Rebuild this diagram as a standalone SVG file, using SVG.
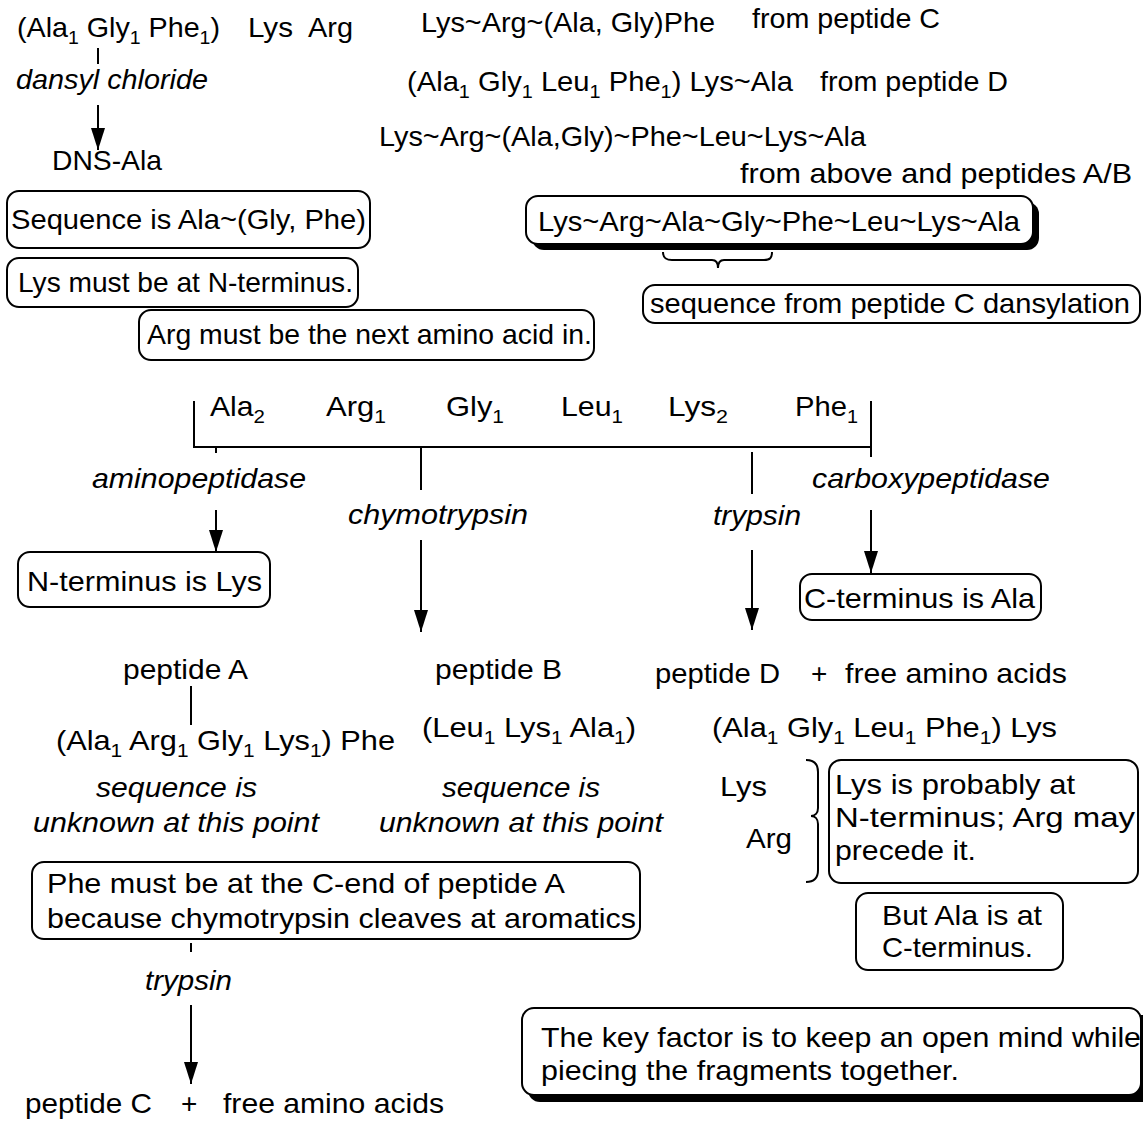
<svg xmlns="http://www.w3.org/2000/svg" width="1143" height="1122" viewBox="0 0 1143 1122">
  <style>
    .t { font-family: "Liberation Sans", Arial, Helvetica, sans-serif; font-size: 28px; fill: #000; }
    .i { font-style: italic; }
    .s { font-size: 19px; }
    .box { fill: #fff; stroke: #000; stroke-width: 2; }
    .shd { fill: #000; }
    .ln { fill: none; stroke: #000; stroke-width: 2; }
  </style>
  <defs>
    <marker id="ah" viewBox="0 0 22 14" refX="22" refY="7" markerWidth="22" markerHeight="14" markerUnits="userSpaceOnUse" orient="auto">
      <path d="M0,0 L22,7 L0,14 Z" fill="#000"/>
    </marker>
  </defs>
  <rect width="1143" height="1122" fill="#fff"/>

  <!-- connectors: plain lines, bracket, braces and arrows -->
  <g id="connectors" class="ln">
    <line x1="98" y1="48" x2="98" y2="64"/>
    <line x1="98" y1="105" x2="98" y2="150" marker-end="url(#ah)"/>
    <path d="M663,252 C663,258 666,260 672,260 L712,260 C716,260 718,263 718,268 C718,263 720,260 724,260 L764,260 C770,260 772,258 772,252"/>
    <path d="M194,401 V447 H871 V401"/>
    <line x1="216" y1="447" x2="216" y2="453"/>
    <line x1="871" y1="447" x2="871" y2="457"/>
    <line x1="216" y1="510" x2="216" y2="552" marker-end="url(#ah)"/>
    <line x1="421" y1="447" x2="421" y2="490"/>
    <line x1="421" y1="540" x2="421" y2="632" marker-end="url(#ah)"/>
    <line x1="752" y1="452" x2="752" y2="494"/>
    <line x1="752" y1="550" x2="752" y2="630" marker-end="url(#ah)"/>
    <line x1="871" y1="510" x2="871" y2="573" marker-end="url(#ah)"/>
    <line x1="191" y1="686" x2="191" y2="725"/>
    <path d="M806,760 C814,760 818,764 818,772 L818,808 C818,813 815,816 811,816 C815,816 818,819 818,824 L818,870 C818,878 814,882 806,882"/>
    <line x1="191" y1="943" x2="191" y2="952"/>
    <line x1="191" y1="1005" x2="191" y2="1084" marker-end="url(#ah)"/>
  </g>

  <!-- dansyl chloride analysis of peptide C -->
  <g id="pepC-comp">
    <text class="t" x="17" y="37" textLength="203" lengthAdjust="spacingAndGlyphs">(Ala<tspan class="s" dy="7">1</tspan><tspan dy="-7"> Gly</tspan><tspan class="s" dy="7">1</tspan><tspan dy="-7"> Phe</tspan><tspan class="s" dy="7">1</tspan><tspan dy="-7">)</tspan></text>
  </g>
  <g id="lys-top"><text class="t" x="248" y="37" textLength="45" lengthAdjust="spacingAndGlyphs">Lys</text></g>
  <g id="arg-top"><text class="t" x="308" y="37" textLength="45" lengthAdjust="spacingAndGlyphs">Arg</text></g>
  <g id="dansyl-label"><text class="t i" x="16" y="89" textLength="192" lengthAdjust="spacingAndGlyphs">dansyl chloride</text></g>
  <g id="dns-ala"><text class="t" x="52" y="170" textLength="110" lengthAdjust="spacingAndGlyphs">DNS-Ala</text></g>

  <g id="note-seq">
    <rect class="box" x="7" y="191" width="363" height="57" rx="12"/>
    <text class="t" x="11" y="229" textLength="355" lengthAdjust="spacingAndGlyphs">Sequence is Ala~(Gly, Phe)</text>
  </g>
  <g id="note-lys">
    <rect class="box" x="7" y="258" width="351" height="49" rx="12"/>
    <text class="t" x="18" y="292" textLength="335" lengthAdjust="spacingAndGlyphs">Lys must be at N-terminus.</text>
  </g>
  <g id="note-arg">
    <rect class="box" x="139" y="310" width="455" height="50" rx="12"/>
    <text class="t" x="147" y="344" textLength="445" lengthAdjust="spacingAndGlyphs">Arg must be the next amino acid in.</text>
  </g>

  <!-- assembled sequence, upper right -->
  <g id="seq-c">
    <text class="t" x="421" y="32" textLength="294" lengthAdjust="spacingAndGlyphs">Lys~Arg~(Ala, Gly)Phe</text>
    <text class="t" x="752" y="28" textLength="188" lengthAdjust="spacingAndGlyphs">from peptide C</text>
  </g>
  <g id="seq-d">
    <text class="t" x="407" y="91" textLength="386" lengthAdjust="spacingAndGlyphs">(Ala<tspan class="s" dy="7">1</tspan><tspan dy="-7"> Gly</tspan><tspan class="s" dy="7">1</tspan><tspan dy="-7"> Leu</tspan><tspan class="s" dy="7">1</tspan><tspan dy="-7"> Phe</tspan><tspan class="s" dy="7">1</tspan><tspan dy="-7">) Lys~Ala</tspan></text>
    <text class="t" x="820" y="91" textLength="188" lengthAdjust="spacingAndGlyphs">from peptide D</text>
  </g>
  <g id="seq-ab">
    <text class="t" x="379" y="146" textLength="487" lengthAdjust="spacingAndGlyphs">Lys~Arg~(Ala,Gly)~Phe~Leu~Lys~Ala</text>
    <text class="t" x="740" y="183" textLength="392" lengthAdjust="spacingAndGlyphs">from above and peptides A/B</text>
  </g>
  <g id="seq-final">
    <rect class="shd" x="532" y="202" width="507" height="48" rx="12"/>
    <rect class="box" x="526" y="196" width="507" height="48" rx="12"/>
    <text class="t" x="538" y="231" textLength="482" lengthAdjust="spacingAndGlyphs">Lys~Arg~Ala~Gly~Phe~Leu~Lys~Ala</text>
  </g>
  <g id="note-dansylation">
    <rect class="box" x="643" y="285" width="497" height="38" rx="12"/>
    <text class="t" x="650" y="313" textLength="480" lengthAdjust="spacingAndGlyphs">sequence from peptide C dansylation</text>
  </g>

  <!-- amino acid composition of the whole peptide -->
  <g id="composition">
    <text class="t" x="210" y="416" textLength="55" lengthAdjust="spacingAndGlyphs">Ala<tspan class="s" dy="7">2</tspan></text>
    <text class="t" x="326" y="416" textLength="60" lengthAdjust="spacingAndGlyphs">Arg<tspan class="s" dy="7">1</tspan></text>
    <text class="t" x="446" y="416" textLength="58" lengthAdjust="spacingAndGlyphs">Gly<tspan class="s" dy="7">1</tspan></text>
    <text class="t" x="561" y="416" textLength="62" lengthAdjust="spacingAndGlyphs">Leu<tspan class="s" dy="7">1</tspan></text>
    <text class="t" x="668" y="416" textLength="60" lengthAdjust="spacingAndGlyphs">Lys<tspan class="s" dy="7">2</tspan></text>
    <text class="t" x="795" y="416" textLength="63" lengthAdjust="spacingAndGlyphs">Phe<tspan class="s" dy="7">1</tspan></text>
  </g>

  <g id="lbl-aminopeptidase"><text class="t i" x="92" y="488" textLength="214" lengthAdjust="spacingAndGlyphs">aminopeptidase</text></g>
  <g id="lbl-chymotrypsin"><text class="t i" x="348" y="524" textLength="180" lengthAdjust="spacingAndGlyphs">chymotrypsin</text></g>
  <g id="lbl-trypsin1"><text class="t i" x="713" y="525" textLength="88" lengthAdjust="spacingAndGlyphs">trypsin</text></g>
  <g id="lbl-carboxypeptidase"><text class="t i" x="812" y="488" textLength="238" lengthAdjust="spacingAndGlyphs">carboxypeptidase</text></g>

  <g id="note-nterm">
    <rect class="box" x="18" y="552" width="252" height="55" rx="12"/>
    <text class="t" x="27" y="591" textLength="235" lengthAdjust="spacingAndGlyphs">N-terminus is Lys</text>
  </g>
  <g id="note-cterm">
    <rect class="box" x="800" y="574" width="241" height="46" rx="12"/>
    <text class="t" x="804" y="608" textLength="231" lengthAdjust="spacingAndGlyphs">C-terminus is Ala</text>
  </g>

  <!-- chymotrypsin fragments -->
  <g id="pep-a">
    <text class="t" x="123" y="679" textLength="125" lengthAdjust="spacingAndGlyphs">peptide A</text>
    <text class="t" x="56" y="750" textLength="339" lengthAdjust="spacingAndGlyphs">(Ala<tspan class="s" dy="7">1</tspan><tspan dy="-7"> Arg</tspan><tspan class="s" dy="7">1</tspan><tspan dy="-7"> Gly</tspan><tspan class="s" dy="7">1</tspan><tspan dy="-7"> Lys</tspan><tspan class="s" dy="7">1</tspan><tspan dy="-7">) Phe</tspan></text>
  </g>
  <g id="pep-b">
    <text class="t" x="435" y="679" textLength="127" lengthAdjust="spacingAndGlyphs">peptide B</text>
    <text class="t" x="422" y="737" textLength="214" lengthAdjust="spacingAndGlyphs">(Leu<tspan class="s" dy="7">1</tspan><tspan dy="-7"> Lys</tspan><tspan class="s" dy="7">1</tspan><tspan dy="-7"> Ala</tspan><tspan class="s" dy="7">1</tspan><tspan dy="-7">)</tspan></text>
  </g>
  <g id="pep-d">
    <text class="t" x="655" y="683" textLength="125" lengthAdjust="spacingAndGlyphs">peptide D</text>
    <text class="t" x="811" y="683">+</text>
    <text class="t" x="845" y="683" textLength="222" lengthAdjust="spacingAndGlyphs">free amino acids</text>
    <text class="t" x="712" y="737" textLength="345" lengthAdjust="spacingAndGlyphs">(Ala<tspan class="s" dy="7">1</tspan><tspan dy="-7"> Gly</tspan><tspan class="s" dy="7">1</tspan><tspan dy="-7"> Leu</tspan><tspan class="s" dy="7">1</tspan><tspan dy="-7"> Phe</tspan><tspan class="s" dy="7">1</tspan><tspan dy="-7">) Lys</tspan></text>
  </g>

  <g id="note-unknown-a">
    <text class="t i" x="96" y="797" textLength="161" lengthAdjust="spacingAndGlyphs">sequence is</text>
    <text class="t i" x="33" y="832" textLength="286" lengthAdjust="spacingAndGlyphs">unknown at this point</text>
  </g>
  <g id="note-unknown-b">
    <text class="t i" x="442" y="797" textLength="158" lengthAdjust="spacingAndGlyphs">sequence is</text>
    <text class="t i" x="379" y="832" textLength="284" lengthAdjust="spacingAndGlyphs">unknown at this point</text>
  </g>

  <g id="lys-arg-pair">
    <text class="t" x="720" y="796" textLength="47" lengthAdjust="spacingAndGlyphs">Lys</text>
    <text class="t" x="746" y="848" textLength="46" lengthAdjust="spacingAndGlyphs">Arg</text>
  </g>
  <g id="note-probably">
    <rect class="box" x="829" y="760" width="309" height="123" rx="12"/>
    <text class="t" x="835" y="794" textLength="240" lengthAdjust="spacingAndGlyphs">Lys is probably at</text>
    <text class="t" x="835" y="827" textLength="300" lengthAdjust="spacingAndGlyphs">N-terminus;  Arg may</text>
    <text class="t" x="835" y="860" textLength="141" lengthAdjust="spacingAndGlyphs">precede it.</text>
  </g>
  <g id="note-but">
    <rect class="box" x="856" y="893" width="207" height="77" rx="12"/>
    <text class="t" x="882" y="925" textLength="160" lengthAdjust="spacingAndGlyphs">But Ala is at</text>
    <text class="t" x="882" y="957" textLength="151" lengthAdjust="spacingAndGlyphs">C-terminus.</text>
  </g>

  <g id="note-phe">
    <rect class="box" x="32" y="862" width="608" height="77" rx="12"/>
    <text class="t" x="47" y="893" textLength="518" lengthAdjust="spacingAndGlyphs">Phe must be at the C-end of peptide A</text>
    <text class="t" x="47" y="928" textLength="589" lengthAdjust="spacingAndGlyphs">because chymotrypsin cleaves at aromatics</text>
  </g>
  <g id="lbl-trypsin2"><text class="t i" x="145" y="990" textLength="87" lengthAdjust="spacingAndGlyphs">trypsin</text></g>
  <g id="pep-c-products">
    <text class="t" x="25" y="1113" textLength="127" lengthAdjust="spacingAndGlyphs">peptide C</text>
    <text class="t" x="181" y="1113">+</text>
    <text class="t" x="223" y="1113" textLength="221" lengthAdjust="spacingAndGlyphs">free amino acids</text>
  </g>

  <g id="note-key">
    <rect class="shd" x="528" y="1015" width="640" height="87" rx="12"/>
    <rect class="box" x="522" y="1008" width="619" height="87" rx="12"/>
    <text class="t" x="541" y="1047" textLength="600" lengthAdjust="spacingAndGlyphs">The key factor is to keep an open mind while</text>
    <text class="t" x="541" y="1080" textLength="418" lengthAdjust="spacingAndGlyphs">piecing the fragments together.</text>
  </g>
</svg>
